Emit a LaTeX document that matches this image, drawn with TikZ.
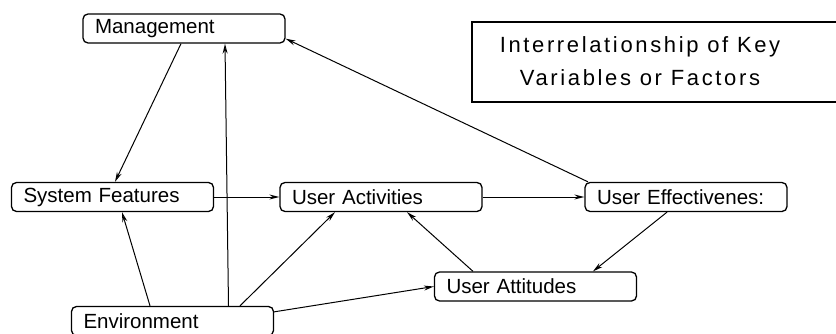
\documentclass[tikz,border=0pt]{standalone}
\usepackage{fontspec}
\setmainfont{Liberation Sans}
\newfontfamily\titlefont[LetterSpace=12]{Liberation Sans}
\usetikzlibrary{arrows.meta}

\begin{document}
\begin{tikzpicture}[x=1pt,y=1pt]

\tikzset{
    fattore/.style={
        draw, line width=1.3pt, rounded corners=5pt,
        minimum width=202pt, minimum height=29pt,
        text width=178pt, inner xsep=12pt, align=left,
        font=\fontsize{20.5}{24}\selectfont
    }
}

\tikzset{
    freccia/.style={
        line width=1pt,
        -{Stealth[open, length=10pt, width=5pt]}
    }
}

\useasboundingbox (0,0) rectangle (836,333);
\clip (0,0) rectangle (836,333);

% titolo
\draw[line width=1.3pt] (472,231) rectangle (850,311);
\node[font=\titlefont\fontsize{22}{26}\selectfont, anchor=base] (tit1) at (640,280) {Interrelationship of Key};
\node[font=\titlefont\fontsize{22}{26}\selectfont, anchor=base] (tit2) at (640,248) {Variables or Factors};

% fattori
\node[fattore] (mgmt) at (184,304.5) {Management};
\node[fattore] (sysf) at (112.5,136) {System Features};
\node[fattore] (uact) at (381,136) {User Activities};
\node[fattore] (ueff) at (686,136) {User Effectivenes:};
\node[fattore] (uatt) at (535.5,46.5) {User Attitudes};
\node[fattore] (env) at (172.5,12) {Environment};

% relazioni
\draw[freccia] ([xshift=-3pt]mgmt.south) -- ([xshift=2.5pt]sysf.north);
\draw[freccia] ([xshift=56pt]env.north) -- ([xshift=41pt]mgmt.south);
\draw[freccia] ([xshift=-98pt]ueff.north) -- ([yshift=5pt]mgmt.south east);
\draw[freccia] (sysf.east) -- (uact.west);
\draw[freccia] (uact.east) -- (ueff.west);
\draw[freccia] ([xshift=-22.5pt]env.north) -- ([xshift=9.5pt]sysf.south);
\draw[freccia] ([xshift=67.5pt]env.north) -- ([xshift=-46pt]uact.south);
\draw[freccia] ([yshift=-6pt]env.north east) -- (uatt.west);
\draw[freccia] ([xshift=-62.5pt]uatt.north) -- ([xshift=26pt]uact.south);
\draw[freccia] ([xshift=-19pt]ueff.south) -- ([xshift=57.5pt]uatt.north);

\end{tikzpicture}
\end{document}
